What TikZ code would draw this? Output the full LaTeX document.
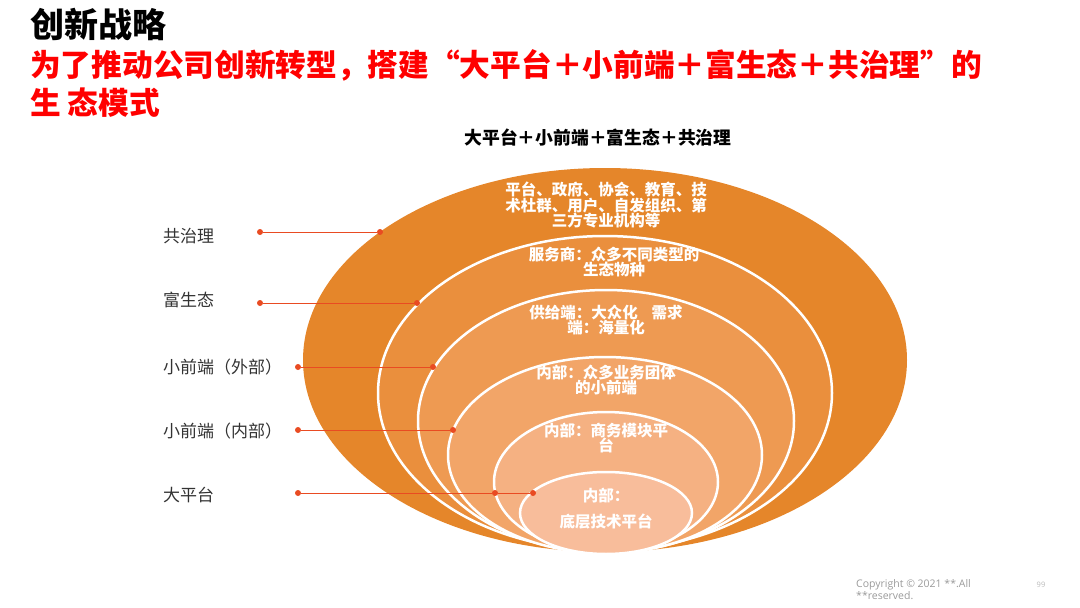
\documentclass[tikz,border=0pt]{standalone}
\usepackage{fontspec}
\setmainfont{Noto Sans CJK SC}
\newfontfamily\latinfont{Open Sans}
\definecolor{o1}{HTML}{E5862A}
\definecolor{o2}{HTML}{EA8F3D}
\definecolor{o3}{HTML}{EE9A52}
\definecolor{o4}{HTML}{F2A568}
\definecolor{o5}{HTML}{F5B182}
\definecolor{o6}{HTML}{F8BD9B}
\definecolor{linkred}{HTML}{E94B22}
\definecolor{labelgray}{HTML}{333333}
\definecolor{copygray}{HTML}{9A9A9A}
\tikzset{
  ring/.style={draw=white, line width=2.5pt},
  intext/.style={text=white, font=\fontsize{15.5}{15.8}\selectfont\bfseries, align=center, inner sep=0pt},
  sidelabel/.style={anchor=west, text=labelgray, font=\fontsize{17}{20}\selectfont, inner sep=0pt},
  dot/.style={circle, fill=linkred, inner sep=0pt, minimum size=6pt},
  link/.style={draw=linkred, line width=1pt}
}
\begin{document}
\begin{tikzpicture}[x=1pt,y=-1pt]
\useasboundingbox (0,0) rectangle (1080,608);
% titles
\node[anchor=west, inner sep=0pt, font=\fontsize{34}{36}\selectfont\bfseries] (title) at (30,24) {创新战略};
\node[anchor=west, inner sep=0pt, text=red, font=\fontsize{30.7}{32}\selectfont\bfseries] (sub1) at (30,65) {为了推动公司创新转型，搭建“大平台＋小前端＋富生态＋共治理”的};
\node[anchor=west, inner sep=0pt, text=red, font=\fontsize{30.7}{32}\selectfont\bfseries] (sub2) at (30,103) {生 态模式};
\node[inner sep=0pt, font=\fontsize{17.8}{20}\selectfont\bfseries] (head) at (598,138) {大平台＋小前端＋富生态＋共治理};
% nested ellipses
\fill[o1] (605,360) ellipse [x radius=302pt, y radius=192pt];
\filldraw[fill=o2, ring] (605,393) ellipse [x radius=227pt, y radius=157pt];
\filldraw[fill=o3, ring] (606,421) ellipse [x radius=188pt, y radius=131pt];
\filldraw[fill=o4, ring] (605,455) ellipse [x radius=157pt, y radius=98pt];
\filldraw[fill=o5, ring] (606,482) ellipse [x radius=112pt, y radius=70pt];
\filldraw[fill=o6, ring] (606,513) ellipse [x radius=86pt, y radius=41pt];
% texts inside
\node[intext] (t1) at (606,205) {平台、政府、协会、教育、技\\术杜群、用户、自发组织、第\\三方专业机构等};
\node[intext] (t2) at (614,262) {服务商：众多不同类型的\\生态物种};
\node[intext] (t3) at (606,320) {供给端：大众化\hspace{0.9em}需求\\端：海量化};
\node[intext] (t4) at (606,380) {内部：众多业务团体\\的小前端};
\node[intext] (t5) at (606,438) {内部：商务模块平\\台};
\node[intext, font=\fontsize{15.5}{26}\selectfont\bfseries] (t6) at (606,509) {内部：\\底层技术平台};
% side labels
\node[sidelabel] (l1) at (163,236) {共治理};
\node[sidelabel] (l2) at (163,300) {富生态};
\node[sidelabel] (l3) at (163,367) {小前端（外部）};
\node[sidelabel] (l4) at (163,431) {小前端（内部）};
\node[sidelabel] (l5) at (163,495) {大平台};
% dots
\node[dot] (a1) at (260,232) {};
\node[dot] (b1) at (380,232) {};
\node[dot] (a2) at (260,303) {};
\node[dot] (b2) at (417,303) {};
\node[dot] (a3) at (298,367) {};
\node[dot] (b3) at (433,367) {};
\node[dot] (a4) at (298,430) {};
\node[dot] (b4) at (453,430) {};
\node[dot] (a5) at (298,493) {};
\node[dot] (b5) at (495,493) {};
\node[dot] (c5) at (533,493) {};
\draw[link] (a1) -- (b1);
\draw[link] (a2) -- (b2);
\draw[link] (a3) -- (b3);
\draw[link] (a4) -- (b4);
\draw[link] (a5) -- (b5) -- (c5);
% footer
\node[anchor=north west, inner sep=0pt, text=copygray, align=left, font=\latinfont\fontsize{10.5}{12.5}\selectfont] (copy) at (856,579) {Copyright © 2021 **.All\\**reserved.};
\node[inner sep=0pt, text=copygray!70, font=\latinfont\fontsize{7.5}{9}\selectfont] (pg) at (1041,585) {99};
\end{tikzpicture}
\end{document}
